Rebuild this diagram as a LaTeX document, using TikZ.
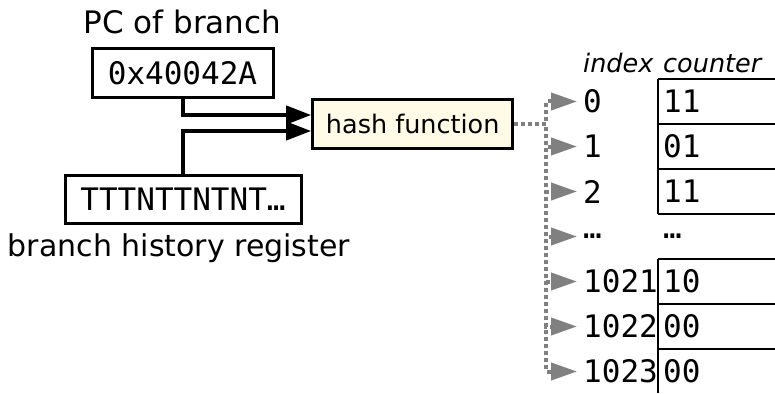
\documentclass[tikz,border=0pt]{standalone}
\usepackage{fontspec}
\setmainfont{DejaVu Sans}
\setmonofont{DejaVu Sans Mono}
\usetikzlibrary{arrows.meta}
\definecolor{hashfill}{RGB}{255,251,230}
\definecolor{linkgray}{RGB}{128,128,128}
\newcommand{\bigsize}{\fontsize{31}{37}\selectfont}
\newcommand{\labsize}{\fontsize{30}{36}\selectfont}
\newcommand{\midsize}{\fontsize{25.5}{30}\selectfont}
\begin{document}
\begin{tikzpicture}[x=1pt,y=-1pt,
  regbox/.style={draw, line width=3pt, inner sep=0pt, font=\ttfamily\bigsize},
  hashbox/.style={draw, line width=3pt, fill=hashfill, inner sep=0pt,
    minimum width=200pt, minimum height=48pt, font=\midsize},
  caption/.style={inner sep=0pt, anchor=base},
  feed/.style={line width=4pt, -{Triangle[length=25pt,width=18pt]}},
  graylink/.style={draw=linkgray, line width=4pt, dash pattern=on 4pt off 3pt,
    -{Triangle[length=26pt,width=17pt]}, color=linkgray},
  idx/.style={anchor=west, inner xsep=6pt, inner ysep=0pt, font=\ttfamily\bigsize},
  cnt/.style={anchor=west, inner xsep=5pt, inner ysep=0pt, font=\ttfamily\bigsize},
  colhead/.style={anchor=base west, inner sep=0pt, font=\itshape\midsize},
  cell/.style={line width=1.3pt}
]
\useasboundingbox (0,0) rectangle (775,393);

% inputs to the hash
\node[caption, font=\bigsize] (pclabel) at (182.5,33.5) {PC of branch};
\node[regbox, minimum width=181pt, minimum height=49pt] (pc) at (182.5,73.5) {0x40042A};
\node[regbox, minimum width=236pt, minimum height=48pt] (bhr) at (183,199) {TTTNTTNTNT…};
\node[caption, font=\labsize] (bhrlabel) at (179,256) {branch history register};

\node[hashbox] (hash) at (412.7,124) {hash function};

\draw[feed] (pc.south) |- ([yshift=9pt]hash.west);
\draw[feed] (bhr.north) |- ([yshift=-7pt]hash.west);

% table headings
\node[colhead] (idxhead) at (583,73) {index};
\node[colhead] (cnthead) at (663,73) {counter};

% counter cells (open on the right)
\foreach \t/\b in {79/214, 259/393} {
  \draw[cell] (658,\t) -- (658,\b);
}
\foreach \h in {79,124,169,214,259,304,349} {
  \draw[cell] (658,\h) -- (775,\h);
}

% rows: index, counter value, and the link from the hash
\foreach \i/\y/\lab/\val in {0/101.5/0/11, 1/146.5/1/01, 2/191.5/2/11,
    3/236.5/…/…, 4/281.5/1021/10, 5/326.5/1022/00, 6/371.5/1023/00} {
  \node[idx] (idx\i) at (577,\y) {\lab};
  \node[cnt] (cnt\i) at (658,\y) {\val};
  \draw[graylink] (hash.east) -- ++(32,0) |- (idx\i.west);
}
\end{tikzpicture}
\end{document}
